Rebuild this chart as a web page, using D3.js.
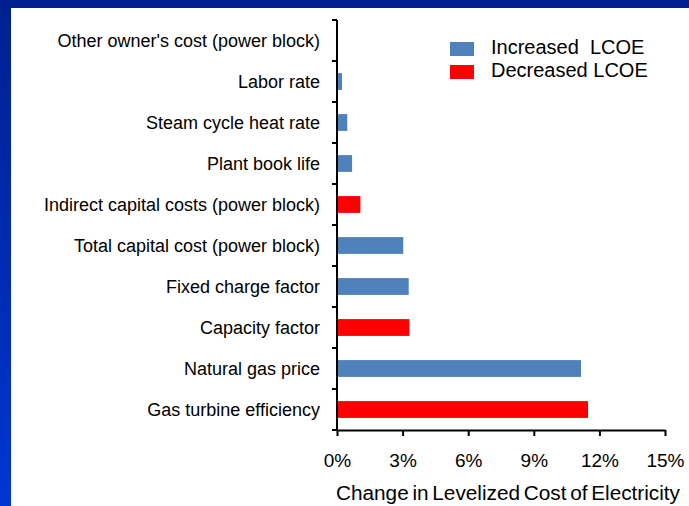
<!DOCTYPE html>
<html>
<head>
<meta charset="utf-8">
<script src="https://cdn.jsdelivr.net/npm/d3@7"></script>
<style>
  html, body { margin: 0; padding: 0; background: #fff; }
  svg { display: block; font-family: "Liberation Sans", Arial, sans-serif; }
  .axis path, .axis line { stroke: #000; stroke-width: 2; }
  .axis text { fill: #000; }
</style>
</head>
<body>
<div id="chart"></div>
<script>
const categories = [
  "Other owner's cost (power block)",
  "Labor rate",
  "Steam cycle heat rate",
  "Plant book life",
  "Indirect capital costs (power block)",
  "Total capital cost (power block)",
  "Fixed charge factor",
  "Capacity factor",
  "Natural gas price",
  "Gas turbine efficiency"
];
// % change in LCOE
const changes = [0, 0.23, 0.47, 0.69, 1.07, 3.03, 3.28, 3.31, 11.16, 11.48];
// direction of the change for each category
const directions = ["inc", "inc", "inc", "inc", "dec", "inc", "inc", "dec", "inc", "dec"];
const xTicks = [0, 3, 6, 9, 12, 15];
const legendLabels = ["Increased  LCOE", "Decreased LCOE"];

const width = 689;
const height = 506;
const margin = { top: 20, right: 24, bottom: 76, left: 337 };

const svg = d3.select("#chart")
  .append("svg")
  .attr("width", width)
  .attr("height", height);

// blue slide frame
const grad = svg.append("defs").append("linearGradient")
  .attr("id", "frame")
  .attr("x1", 0).attr("y1", 0).attr("x2", 0).attr("y2", 1);
grad.append("stop").attr("offset", "0%").attr("stop-color", "#00208f");
grad.append("stop").attr("offset", "100%").attr("stop-color", "#0036d2");

svg.append("rect")
  .attr("width", width)
  .attr("height", height)
  .attr("fill", "url(#frame)");

svg.append("rect")
  .attr("x", 11)
  .attr("y", 8)
  .attr("width", width - 11)
  .attr("height", height - 8)
  .attr("fill", "#fff");

const x = d3.scaleLinear()
  .domain([0, 15])
  .range([margin.left, 665]);

const y = d3.scaleBand()
  .domain(categories)
  .range([margin.top, height - margin.bottom])
  .padding(0);

const color = d3.scaleOrdinal()
  .domain(["inc", "dec"])
  .range(["#4f81bd", "#ff0000"]);

const barH = y.bandwidth() * 0.41;

svg.append("g")
  .selectAll("rect")
  .data(categories)
  .enter().append("rect")
  .attr("x", x(0))
  .attr("y", d => y(d) + (y.bandwidth() - barH) / 2)
  .attr("width", (d, i) => x(changes[i]) - x(0))
  .attr("height", barH)
  .attr("fill", (d, i) => color(directions[i]));

// y axis: ticks sit between categories
const yAxis = svg.append("g")
  .attr("class", "axis")
  .attr("transform", `translate(${margin.left},0)`);

yAxis.append("line")
  .attr("y1", y.range()[0])
  .attr("y2", y.range()[1]);

yAxis.selectAll(".edge")
  .data(d3.range(categories.length + 1))
  .enter().append("line")
  .attr("class", "edge")
  .attr("x1", -5)
  .attr("x2", 0)
  .attr("y1", i => y.range()[0] + i * y.step())
  .attr("y2", i => y.range()[0] + i * y.step());

yAxis.selectAll("text")
  .data(categories)
  .enter().append("text")
  .attr("x", -17)
  .attr("y", d => y(d) + y.bandwidth() / 2)
  .attr("dy", "0.35em")
  .attr("text-anchor", "end")
  .style("font-size", "18px")
  .text(d => d);

// x axis
const xAxis = svg.append("g")
  .attr("class", "axis")
  .attr("transform", `translate(0,${y.range()[1]})`)
  .call(d3.axisBottom(x)
    .tickValues(xTicks)
    .tickSize(6)
    .tickPadding(18)
    .tickSizeOuter(0)
    .tickFormat(d => d + "%"));

xAxis.selectAll("text")
  .style("font-size", "19px")
  .attr("font-family", null);

svg.append("text")
  .attr("x", 508)
  .attr("y", 500)
  .attr("text-anchor", "middle")
  .style("font-size", "20.5px")
  .style("word-spacing", "-2px")
  .attr("textLength", 344)
  .attr("lengthAdjust", "spacingAndGlyphs")
  .text("Change in Levelized Cost of Electricity");

// legend
const legend = svg.append("g")
  .attr("transform", "translate(450,42)");

const legendItems = legend.selectAll("g")
  .data(["inc", "dec"])
  .enter().append("g")
  .attr("transform", (d, i) => `translate(0,${i * 23})`);

legendItems.append("rect")
  .attr("width", 24)
  .attr("height", 14)
  .attr("fill", d => color(d));

legendItems.append("text")
  .attr("x", 41)
  .attr("y", 12)
  .style("font-size", "20px")
  .style("white-space", "pre")
  .text((d, i) => legendLabels[i]);
</script>
</body>
</html>
